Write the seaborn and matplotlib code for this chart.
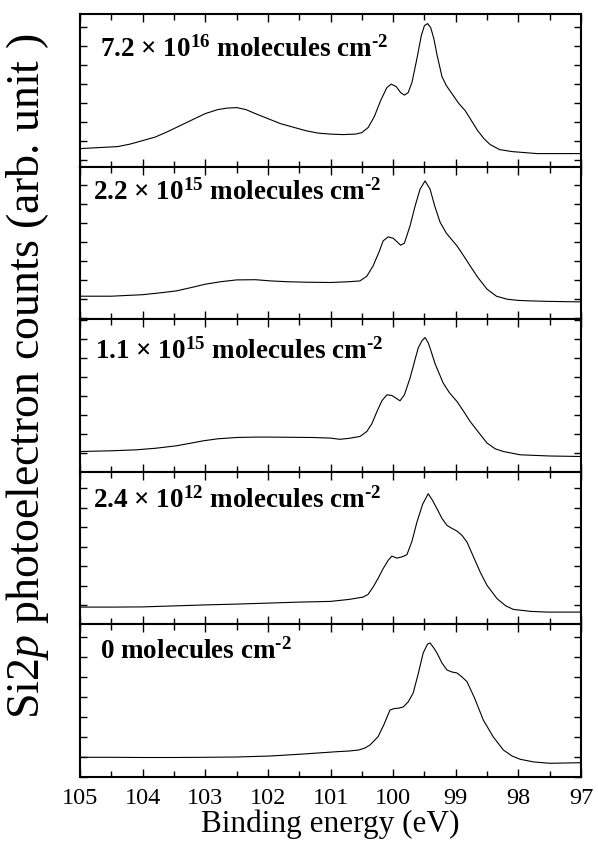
import matplotlib
matplotlib.use("Agg")
import matplotlib.pyplot as plt
from matplotlib.ticker import MultipleLocator, NullFormatter
import seaborn as sns
import numpy as np

# ---- data (binding energy in eV, intensity in arb. unit) ----
labels = [
    r"7.2 $\times$ 10$^{16}$ molecules cm$^{\text{-2}}$",
    r"2.2 $\times$ 10$^{15}$ molecules cm$^{\text{-2}}$",
    r"1.1 $\times$ 10$^{15}$ molecules cm$^{\text{-2}}$",
    r"2.4 $\times$ 10$^{12}$ molecules cm$^{\text{-2}}$",
    r"0 molecules cm$^{\text{-2}}$",
]

e1 = [105.0, 104.7, 104.4, 104.2, 104.0, 103.8, 103.6, 103.4, 103.2, 103.0, 102.8, 102.65,
      102.5, 102.35, 102.2, 102.0, 101.8, 101.6, 101.4, 101.2, 101.0, 100.8, 100.6, 100.5,
      100.4, 100.3, 100.2, 100.1, 100.03, 99.95, 99.88, 99.82, 99.76, 99.7, 99.62, 99.55,
      99.5, 99.45, 99.4, 99.35, 99.3, 99.22, 99.15, 99.05, 98.95, 98.85, 98.75, 98.65,
      98.55, 98.45, 98.3, 98.1, 97.9, 97.7, 97.4, 97.0]
i1 = [18, 19, 20, 22.5, 26, 29.5, 35, 41, 47, 53, 57, 58.5,
      59, 57, 53, 48, 43, 39.5, 36, 33.5, 32.5, 32, 32.5, 34,
      39, 50, 66, 79, 82.5, 80, 74, 71.5, 74, 84, 108, 131,
      141, 143, 139, 128, 112, 90, 81, 72, 63, 56, 46, 36,
      28, 22, 17, 15, 14, 13, 13, 13]

e2 = [105.0, 104.5, 104.0, 103.7, 103.46, 103.2, 103.0, 102.75, 102.5, 102.2, 101.96, 101.7,
      101.4, 101.0, 100.7, 100.53, 100.42, 100.32, 100.22, 100.16, 100.08, 100.0, 99.93, 99.88,
      99.82, 99.73, 99.65, 99.57, 99.49, 99.41, 99.33, 99.25, 99.15, 98.98, 98.88, 98.77,
      98.65, 98.5, 98.35, 98.18, 98.0, 97.81, 97.5, 97.0]
i2 = [23, 23, 24.5, 26.5, 28.3, 32, 35, 37.5, 39.3, 39.5, 38.3, 37.5,
      37, 36.7, 37.5, 38.3, 43, 53.3, 68, 78.3, 82.3, 81, 77, 74,
      76, 93.3, 113, 130, 138.3, 130, 112, 97, 86, 73.3, 64, 53.3,
      42, 30, 23, 20, 18.8, 18.3, 17.8, 17.3]

e3 = [105.0, 104.5, 104.1, 103.8, 103.46, 103.2, 103.03, 102.8, 102.5, 102.2, 101.96, 101.6,
      101.28, 101.0, 100.85, 100.7, 100.53, 100.42, 100.34, 100.26, 100.18, 100.1, 100.02, 99.95,
      99.89, 99.82, 99.73, 99.66, 99.6, 99.54, 99.49, 99.44, 99.41, 99.33, 99.2, 99.1,
      98.98, 98.88, 98.77, 98.63, 98.5, 98.37, 98.24, 97.97, 97.5, 97.0]
i3 = [20.3, 21, 22, 23.5, 26, 29, 31, 33, 34.3, 34.7, 34.7, 34.5,
      34.3, 33.7, 32.5, 33.5, 35.3, 40.3, 48, 60, 71, 77, 76.3, 73.5,
      71, 77, 93.7, 110, 123.7, 131, 134.3, 129, 123.7, 108, 88.7, 79,
      70.3, 61, 50.3, 39, 28.7, 23, 20.3, 17, 15.8, 15.3]

e4 = [105.0, 104.5, 104.0, 103.5, 103.0, 102.5, 102.0, 101.5, 101.0, 100.7, 100.48, 100.4,
      100.32, 100.24, 100.16, 100.08, 100.02, 99.94, 99.86, 99.78, 99.7, 99.62, 99.53, 99.44,
      99.37, 99.3, 99.22, 99.14, 99.06, 98.98, 98.9, 98.82, 98.72, 98.61, 98.5, 98.34,
      98.2, 98.08, 97.8, 97.54, 97.0]
i4 = [17.3, 17.3, 17.5, 18.5, 19.5, 20.3, 21.3, 22.3, 23, 25, 27.3, 30,
      37.3, 46, 55.7, 64, 68.3, 66.3, 67.5, 69.7, 83, 102.3, 120, 130.7,
      124, 115.7, 106, 99, 96, 93.3, 89, 82.3, 68, 52.3, 39, 25.7,
      18.5, 15, 13, 12.3, 12.3]

e5 = [105.0, 104.5, 104.0, 103.5, 103.0, 102.5, 101.96, 101.43, 100.9, 100.7, 100.55, 100.45,
      100.37, 100.24, 100.15, 100.05, 99.98, 99.92, 99.84, 99.76, 99.68, 99.6, 99.52, 99.45,
      99.41, 99.35, 99.3, 99.22, 99.14, 99.06, 98.98, 98.9, 98.82, 98.7, 98.56, 98.4,
      98.24, 98.1, 97.97, 97.75, 97.49, 97.0]
i5 = [19.7, 19.7, 19.5, 19.5, 19.7, 20, 21, 23, 25.3, 26, 27, 29,
      32, 40.3, 52, 67, 68.5, 68.7, 70, 75, 84, 103, 124, 133,
      134, 129, 124, 114, 107, 105, 104, 100, 95.3, 79, 57, 40,
      27, 21, 17.7, 15, 13.7, 14.3]

energies = [e1, e2, e3, e4, e5]
intens = [i1, i2, i3, i4, i5]

# ---- style ----
sns.set_theme(style="ticks")
plt.rcParams["font.family"] = ["Liberation Serif", "DejaVu Serif"]
plt.rcParams["mathtext.fontset"] = "custom"
plt.rcParams["mathtext.rm"] = "Liberation Serif:bold"
plt.rcParams["mathtext.bf"] = "Liberation Serif:bold"
plt.rcParams["mathtext.it"] = "Liberation Serif:italic"

W, H = 598, 852
fig = plt.figure(figsize=(W / 100, H / 100), dpi=100)
axes = fig.subplots(5, 1, sharex=True)
fig.subplots_adjust(left=80 / W, right=581 / W, top=1 - 14 / H, bottom=1 - 777 / H, hspace=0)

tick_offsets = [7, 20, 19, 19, 20]
tick_steps = [19, 19, 19, 19.5, 20]
label_pos = [(0.040, 0.719), (0.026, 0.786), (0.030, 0.744), (0.026, 0.764), (0.040, 0.778)]

for k, ax in enumerate(axes):
    sns.lineplot(x=energies[k], y=intens[k], ax=ax, color="black", linewidth=0.8)
    ax.set_xlim(105, 97)
    ax.set_ylim(0, 152.6)
    ax.xaxis.set_major_locator(MultipleLocator(1))
    ax.xaxis.set_minor_locator(MultipleLocator(0.5))
    ax.yaxis.set_major_locator(MultipleLocator(tick_steps[k], offset=tick_offsets[k]))
    ax.yaxis.set_major_formatter(NullFormatter())
    ax.tick_params(axis="both", which="both", direction="in", top=True, right=True,
                   width=1.0, color="black")
    ax.tick_params(axis="x", which="major", length=6)
    ax.tick_params(axis="x", which="minor", length=4)
    ax.tick_params(axis="y", which="major", length=5)
    ax.tick_params(axis="x", labelsize=17.5, pad=8, labelcolor="black")
    for sp in ax.spines.values():
        sp.set_linewidth(1.5)
        sp.set_color("black")
        sp.set_visible(True)
    ax.set_ylabel("")
    ax.set_xlabel("")
    ax.text(label_pos[k][0], label_pos[k][1], labels[k], transform=ax.transAxes,
            fontsize=19.5, fontweight="bold", ha="left", va="baseline", color="black")
    if k < 4:
        ax.tick_params(axis="x", labelbottom=False)

axes[-1].set_xticks(np.arange(105, 96.5, -1))
axes[-1].set_xticklabels([str(v) for v in range(105, 96, -1)])
axes[-1].set_xlabel("Binding energy (eV)", fontsize=22.5, labelpad=0, color="black")

fig.text(27.6 / W, 1 - 376 / H, "Si2$p$ photoelectron counts (arb. unit )",
         rotation=90, ha="center", va="center", fontsize=33, color="black")

fig.savefig("out.png", dpi=100, facecolor="white")
